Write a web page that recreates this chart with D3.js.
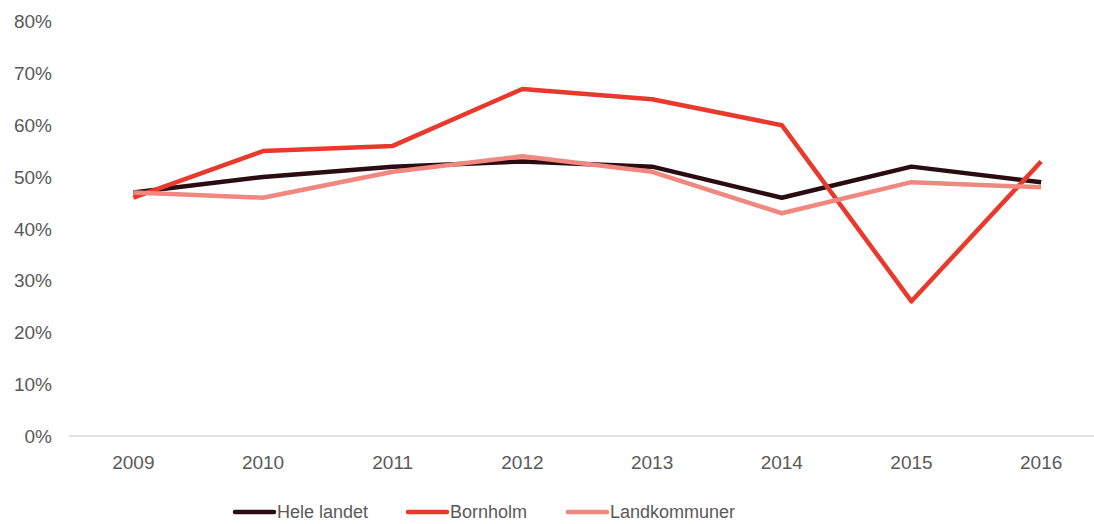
<!DOCTYPE html>
<html>
<head>
<meta charset="utf-8">
<script src="https://cdn.jsdelivr.net/npm/d3@7"></script>
<style>
  html, body { margin: 0; padding: 0; background: #fff; }
  svg { display: block; font-family: "Liberation Sans", Arial, Helvetica, sans-serif; }
</style>
</head>
<body>
<svg id="chart" width="1094" height="524"></svg>
<script>
const years = ["2009", "2010", "2011", "2012", "2013", "2014", "2015", "2016"];
const heleLandet = [0.47, 0.50, 0.52, 0.53, 0.52, 0.46, 0.52, 0.49];
const bornholm = [0.46, 0.55, 0.56, 0.67, 0.65, 0.60, 0.26, 0.53];
const landkommuner = [0.47, 0.46, 0.51, 0.54, 0.51, 0.43, 0.49, 0.48];
const yTicks = [0, 0.1, 0.2, 0.3, 0.4, 0.5, 0.6, 0.7, 0.8];
const seriesNames = ["Hele landet", "Bornholm", "Landkommuner"];
const seriesColors = ["#2a0c12", "#e8392c", "#f08880"];

const series = [
  { name: seriesNames[0], values: heleLandet, color: seriesColors[0] },
  { name: seriesNames[1], values: bornholm, color: seriesColors[1] },
  { name: seriesNames[2], values: landkommuner, color: seriesColors[2] }
];

const svg = d3.select("#chart");

const x = d3.scaleBand().domain(years).range([68.5, 1106]);
const y = d3.scaleLinear().domain([0, 0.8]).range([436, 21.6]);

// baseline axis
svg.append("line")
  .attr("x1", 69).attr("x2", 1094)
  .attr("y1", y(0)).attr("y2", y(0))
  .attr("stroke", "#d9d9d9").attr("stroke-width", 1.5);

// y labels
svg.append("g").selectAll("text")
  .data(yTicks).join("text")
  .attr("x", 52)
  .attr("y", d => y(d))
  .attr("dy", "0.36em")
  .attr("text-anchor", "end")
  .attr("fill", "#595959")
  .attr("font-size", 19)
  .text(d => d3.format(".0%")(d));

// x labels
svg.append("g").selectAll("text")
  .data(years).join("text")
  .attr("x", d => x(d) + x.bandwidth() / 2)
  .attr("y", 462)
  .attr("dy", "0.36em")
  .attr("text-anchor", "middle")
  .attr("fill", "#595959")
  .attr("font-size", 19)
  .text(d => d);

const line = d3.line()
  .x((d, i) => x(years[i]) + x.bandwidth() / 2)
  .y(d => y(d));

svg.append("g").selectAll("path")
  .data(series).join("path")
  .attr("d", d => line(d.values))
  .attr("fill", "none")
  .attr("stroke", d => d.color)
  .attr("stroke-width", 4.5)
  .attr("stroke-linejoin", "round")
  .attr("stroke-linecap", "butt");

// legend
const legendX = [235, 408, 568];
const lg = svg.append("g").selectAll("g")
  .data(series).join("g")
  .attr("transform", (d, i) => `translate(${legendX[i]},512)`);
lg.append("line")
  .attr("x1", 0).attr("x2", 39)
  .attr("y1", 0).attr("y2", 0)
  .attr("stroke", d => d.color)
  .attr("stroke-width", 4.5)
  .attr("stroke-linecap", "round");
lg.append("text")
  .attr("x", 42)
  .attr("y", 0)
  .attr("dy", "0.36em")
  .attr("fill", "#595959")
  .attr("font-size", 18)
  .text(d => d.name);
</script>
</body>
</html>
